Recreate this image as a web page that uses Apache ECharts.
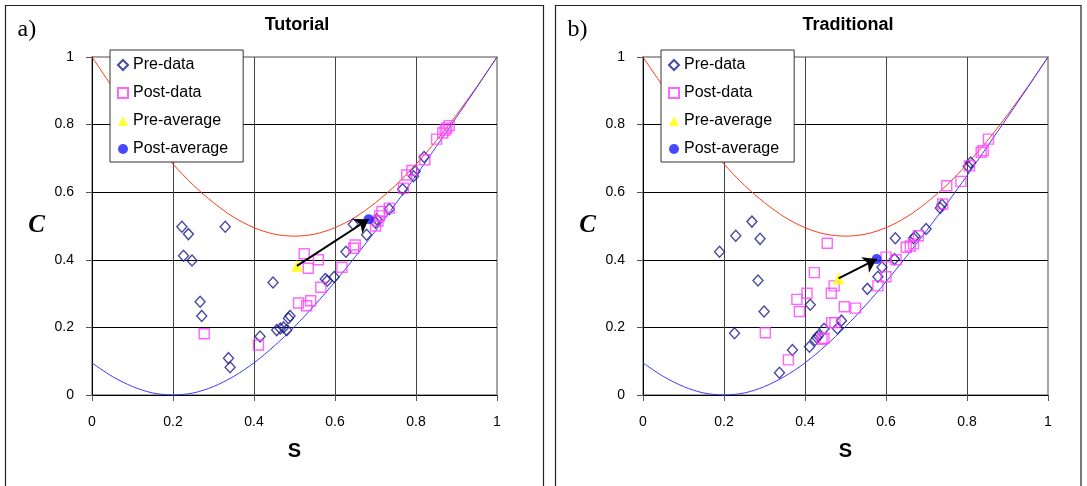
<!DOCTYPE html>
<html>
<head>
<meta charset="utf-8">
<script src="https://cdn.jsdelivr.net/npm/echarts@6/dist/echarts.min.js"></script>
<style>
html,body{margin:0;padding:0;background:#fff;}
#chart{width:1087px;height:486px;}
</style>
</head>
<body>
<div id="chart"></div>
<script>
// S grid for the two bound curves
var curveS = [0,0.05,0.1,0.15,0.2,0.25,0.3,0.35,0.4,0.45,0.5,0.55,0.6,0.65,0.7,0.75,0.8,0.85,0.9,0.95,1];
var upperC = [1,0.912,0.829,0.752,0.683,0.621,0.569,0.526,0.495,0.476,0.470,0.476,0.495,0.526,0.569,0.621,0.683,0.752,0.829,0.912,1];
var lowerC = [0.095,0.055,0.025,0.006,0,0.006,0.025,0.055,0.095,0.145,0.202,0.266,0.335,0.409,0.486,0.566,0.649,0.735,0.822,0.910,1];

// a) Tutorial
var preA = [[0.222,0.498],[0.238,0.476],[0.226,0.412],[0.247,0.398],[0.329,0.498],[0.267,0.276],[0.271,0.234],
  [0.337,0.109],[0.341,0.082],[0.415,0.173],[0.447,0.333],[0.456,0.192],[0.465,0.197],[0.473,0.200],[0.481,0.192],
  [0.485,0.227],[0.489,0.234],[0.576,0.343],[0.581,0.338],[0.598,0.349],[0.627,0.424],[0.645,0.505],[0.678,0.474],
  [0.700,0.510],[0.703,0.520],[0.734,0.550],[0.767,0.609],[0.794,0.647],[0.798,0.661],[0.820,0.704]];
var postA = [[0.277,0.181],[0.411,0.148],[0.510,0.272],[0.530,0.264],[0.540,0.279],[0.524,0.418],[0.534,0.375],
  [0.559,0.400],[0.565,0.319],[0.617,0.378],[0.646,0.434],[0.650,0.444],[0.700,0.500],[0.706,0.515],[0.710,0.530],
  [0.716,0.543],[0.734,0.553],[0.769,0.612],[0.777,0.651],[0.790,0.664],[0.822,0.696],[0.851,0.757],[0.866,0.775],
  [0.872,0.784],[0.876,0.790],[0.882,0.797]];
var preAvgA = [0.506,0.382];
var postAvgA = [0.683,0.520];

// b) Traditional
var preB = [[0.269,0.513],[0.229,0.471],[0.289,0.462],[0.189,0.424],[0.284,0.339],[0.299,0.247],[0.226,0.183],
  [0.413,0.267],[0.369,0.133],[0.337,0.066],[0.411,0.143],[0.425,0.163],[0.429,0.170],[0.433,0.175],[0.447,0.196],
  [0.480,0.197],[0.490,0.220],[0.554,0.314],[0.580,0.350],[0.590,0.378],[0.621,0.402],[0.623,0.464],[0.668,0.464],
  [0.672,0.469],[0.699,0.491],[0.734,0.553],[0.738,0.563],[0.803,0.676],[0.809,0.688]];
var postB = [[0.455,0.449],[0.423,0.362],[0.380,0.283],[0.405,0.301],[0.386,0.247],[0.302,0.184],[0.359,0.104],
  [0.472,0.323],[0.465,0.301],[0.497,0.261],[0.525,0.257],[0.466,0.214],[0.474,0.214],[0.442,0.165],[0.447,0.168],
  [0.580,0.323],[0.600,0.350],[0.600,0.408],[0.625,0.400],[0.650,0.437],[0.660,0.441],[0.668,0.447],[0.680,0.471],
  [0.740,0.565],[0.750,0.619],[0.785,0.632],[0.806,0.678],[0.835,0.718],[0.840,0.723],[0.853,0.757]];
var preAvgB = [0.483,0.345];
var postAvgB = [0.577,0.402];

var titles = ['Tutorial', 'Traditional'];
var labels = ['a)', 'b)'];
var legendNames = ['Pre-data', 'Post-data', 'Pre-average', 'Post-average'];

var font = 'Liberation Sans, Arial, sans-serif';
var serif = 'Liberation Serif, Times New Roman, serif';

function zip(xs, ys){
  return xs.map(function(x, i){ return [x, ys[i]]; });
}

var panels = [
  {pre: preA, post: postA, preAvg: preAvgA, postAvg: postAvgA, left: 92, frameX: 5.5, frameW: 538},
  {pre: preB, post: postB, preAvg: preAvgB, postAvg: postAvgB, left: 643, frameX: 555.5, frameW: 525.5}
];

var grids = [], xAxes = [], yAxes = [], series = [], legends = [], graphics = [];

panels.forEach(function(p, i){
  grids.push({left: p.left, top: 57, width: 405, height: 338, show: true, borderColor: '#888', borderWidth: 1.5, backgroundColor: 'transparent'});
  xAxes.push({
    type: 'value', gridIndex: i, min: 0, max: 1, interval: 0.2,
    name: 'S', nameLocation: 'middle', nameGap: 46,
    nameTextStyle: {fontFamily: font, fontWeight: 'bold', fontSize: 20, color: '#000'},
    axisLine: {onZero: false, lineStyle: {color: '#000', width: 1}},
    axisTick: {length: 6, lineStyle: {color: '#555'}},
    axisLabel: {fontFamily: font, fontSize: 14, color: '#000', margin: 20},
    splitLine: {show: true, showMaxLine: false, lineStyle: {color: '#444', width: 1}}
  });
  yAxes.push({
    type: 'value', gridIndex: i, min: 0, max: 1, interval: 0.2,
    name: 'C', nameLocation: 'middle', nameGap: 47, nameRotate: 0,
    nameTextStyle: {fontFamily: serif, fontWeight: 'bold', fontStyle: 'italic', fontSize: 25, color: '#000'},
    axisLine: {onZero: false, lineStyle: {color: '#000', width: 1}},
    axisTick: {length: 6, lineStyle: {color: '#555'}},
    axisLabel: {fontFamily: font, fontSize: 14, color: '#000', margin: 18},
    splitLine: {show: true, showMaxLine: false, lineStyle: {color: '#000', width: 1}}
  });

  series.push({
    type: 'line', xAxisIndex: i, yAxisIndex: i, data: zip(curveS, upperC),
    showSymbol: false, smooth: 0.3, silent: true,
    lineStyle: {color: '#ff3a1a', width: 1}, z: 1
  });
  series.push({
    type: 'line', xAxisIndex: i, yAxisIndex: i, data: zip(curveS, lowerC),
    showSymbol: false, smooth: 0.3, silent: true,
    lineStyle: {color: '#3a3aff', width: 1}, z: 1
  });
  series.push({
    name: 'Pre-data', type: 'scatter', xAxisIndex: i, yAxisIndex: i, data: p.pre,
    symbol: 'diamond', symbolSize: [10, 11],
    itemStyle: {color: 'rgba(255,255,255,0)', borderColor: '#1c1c8c', borderWidth: 1.4}, z: 3
  });
  series.push({
    name: 'Post-data', type: 'scatter', xAxisIndex: i, yAxisIndex: i, data: p.post,
    symbol: 'rect', symbolSize: 10,
    itemStyle: {color: 'rgba(255,255,255,0)', borderColor: '#ff40ff', borderWidth: 1.4}, z: 3
  });
  series.push({
    name: 'Pre-average', type: 'scatter', xAxisIndex: i, yAxisIndex: i, data: [p.preAvg],
    symbol: 'triangle', symbolSize: 12,
    itemStyle: {color: '#ffff00'}, z: 4
  });
  series.push({
    name: 'Post-average', type: 'scatter', xAxisIndex: i, yAxisIndex: i, data: [p.postAvg],
    symbol: 'circle', symbolSize: 10,
    itemStyle: {color: '#1a1aff'}, z: 4
  });
  series.push({
    type: 'lines', coordinateSystem: 'cartesian2d', xAxisIndex: i, yAxisIndex: i,
    symbol: ['none', 'arrow'], symbolSize: 13, silent: true,
    lineStyle: {color: '#000', width: 2, opacity: 1},
    data: [{coords: [p.preAvg, p.postAvg]}], z: 5
  });

  legends.push({
    data: legendNames, orient: 'vertical', left: p.left + 18, top: 50,
    itemWidth: 10, itemHeight: 10, itemGap: 12, padding: [7, 15, 5, 7],
    backgroundColor: '#fff', borderColor: '#333', borderWidth: 1,
    textStyle: {fontFamily: font, fontSize: 16, color: '#000'},
    selectedMode: false
  });

  graphics.push({
    type: 'rect', shape: {x: p.frameX, y: 5.5, width: p.frameW, height: 520},
    style: {fill: 'none', stroke: '#222', lineWidth: 1.2}, silent: true
  });
  graphics.push({
    type: 'text', x: p.left + 205, y: 25,
    style: {text: titles[i], font: 'bold 18px ' + font, fill: '#000', align: 'center', verticalAlign: 'middle'}
  });
  graphics.push({
    type: 'text', x: p.frameX + 12, y: 30,
    style: {text: labels[i], font: '24px ' + serif, fill: '#000', align: 'left', verticalAlign: 'middle'}
  });
});

var myChart = echarts.init(document.getElementById('chart'));
myChart.setOption({
  animation: false,
  grid: grids,
  xAxis: xAxes,
  yAxis: yAxes,
  legend: legends,
  graphic: graphics,
  series: series
});
</script>
</body>
</html>
